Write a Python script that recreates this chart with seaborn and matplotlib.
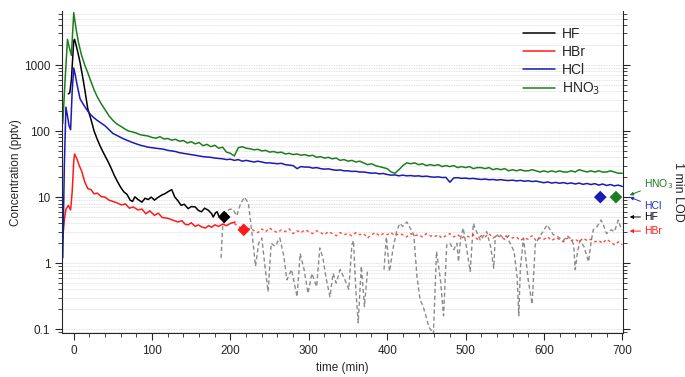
import numpy as np
import pandas as pd
import matplotlib
matplotlib.use('Agg')
import matplotlib.pyplot as plt
import seaborn as sns
from matplotlib.ticker import FixedLocator, LogLocator, FuncFormatter, MultipleLocator, NullFormatter

# ---- data (time in min, concentration in pptv) ----
t_early_hno3 = [-14, -11, -8, -6, -3, 0, 3, 6, 10, 14, 18, 22, 26, 30, 35, 40, 45, 50,
                55, 60, 65, 70, 75, 80, 85, 90, 95]
hno3_early = [130, 600, 2450, 1900, 1400, 6200, 3500, 2200, 1400, 1000, 760, 560, 420, 330,
              260, 210, 170, 145, 128, 118, 108, 100, 97, 93, 88, 86, 84]

t_early_hcl = [-14, -12, -10, -8, -6, -4, -2, 0, 2, 4, 6, 8, 10, 14, 18, 22, 26, 30, 35, 40,
               45, 50, 55, 60, 65, 70, 75, 80, 85, 90, 95]
hcl_early = [1.2, 30, 230, 170, 120, 105, 400, 900, 700, 520, 400, 310, 280, 235, 200, 175,
             158, 145, 132, 120, 105, 92, 86, 80, 75, 71, 67, 64, 61, 59, 57]

t_late = [100, 105, 110, 115, 120, 125, 130, 135, 140, 145,
          150, 155, 160, 165, 170, 175, 180, 185, 190, 195,
          200, 205, 210, 215, 220, 225, 230, 235, 240, 245,
          250, 255, 260, 265, 270, 275, 280, 285, 290, 295,
          300, 305, 310, 315, 320, 325, 330, 335, 340, 345,
          350, 355, 360, 365, 370, 375, 380, 385, 390, 395,
          400, 405, 410, 415, 420, 425, 430, 435, 440, 445,
          450, 455, 460, 465, 470, 475, 480, 485, 490, 495,
          500, 505, 510, 515, 520, 525, 530, 535, 540, 545,
          550, 555, 560, 565, 570, 575, 580, 585, 590, 595,
          600, 605, 610, 615, 620, 625, 630, 635, 640, 645,
          650, 655, 660, 665, 670, 675, 680, 685, 690, 695,
          700]

hno3_late = [80, 78, 82, 76, 77, 73, 75, 70, 72, 66,
             69, 64, 67, 60, 63, 58, 61, 55, 57, 48,
             46, 42, 56, 58, 55, 54, 52, 53, 50, 51,
             48, 49, 47, 48, 45, 46, 44, 45, 43, 44,
             42, 43, 40, 41, 39, 40, 38, 39, 36, 37,
             35, 36, 34, 35, 33, 31, 32, 30, 29, 28,
             27, 24, 23, 26, 30, 33, 32, 33, 31, 32,
             30, 31, 30, 31, 29, 30, 29, 30, 28, 29,
             28, 29, 27, 28, 28, 27, 28, 26, 27, 26,
             27, 25, 26, 25, 26, 25, 25, 26, 25, 24,
             25, 24, 25, 24, 25, 24, 24, 25, 24, 26,
             25, 24, 25, 24, 25, 24, 24, 25, 24, 23,
             23]

hcl_late = [56, 55, 54, 53, 51, 50, 49, 47, 46, 45,
            44, 43, 42, 41, 40.5, 40, 39, 38.5, 38, 37,
            37.5, 36, 37, 35, 36, 35, 34, 35, 34, 33,
            33, 32.5, 32, 32.5, 31, 30.5, 30, 27, 29, 28.5,
            28.5, 27.5, 28, 27, 26.5, 26.8, 26, 25.5, 25.8, 25,
            25, 24.5, 24.6, 24, 24, 23.5, 23, 23.2, 22.5, 22.8,
            22, 21.5, 21.7, 21, 21.5, 21, 21.2, 20.8, 21, 20.5,
            20.8, 20.3, 20, 20.3, 19.8, 19.9, 16.8, 19.5, 19.7, 19.2,
            19.4, 19, 19.2, 18.8, 18.5, 18.8, 18.3, 18.5, 18.1, 18.4,
            18, 17.8, 18.1, 17.6, 17.9, 17.4, 17.7, 17.2, 17.5, 17,
            16.5, 17, 16.3, 16.7, 16.2, 16.6, 16, 16.4, 15.8, 16.3,
            15.6, 16.1, 15.5, 16, 15.2, 15.8, 15, 15.5, 14.8, 15.2,
            14.5]

t_hf = [-7, -5, -3, -1, 0, 1, 3, 5, 8, 12, 14, 18, 22, 26, 30, 33, 36, 40, 44, 48, 52, 56,
        60, 64, 68, 72, 75, 78, 82, 87, 91, 95, 99, 103, 107, 112, 116, 120, 125, 129, 133,
        137, 141, 146, 150, 155, 159, 163, 167, 172, 176, 178, 181, 183, 185]
hf = [365, 380, 600, 1500, 2300, 2450, 2000, 1600, 1100, 600, 430, 215, 150, 100, 75, 62,
      52, 42, 34, 27, 21, 17, 14, 12, 11, 9, 8.6, 10.1, 9.2, 8.4, 9.6, 9.2, 10, 9, 9.8, 10.7,
      11.2, 12, 13, 10, 8.8, 7.5, 7.8, 6.7, 7.2, 7.1, 6.3, 6, 6.8, 6.3, 5.6, 5, 5.8, 6, 5.2]

t_hbr = [-14, -12, -10, -7, -4, -2, 0, 1, 4, 7, 10, 14, 18, 22, 26, 30, 35, 40, 45, 50, 55,
         61, 66, 71, 76, 82, 87, 92, 97, 103, 108, 113, 120, 126, 133, 138, 142, 146, 150,
         155, 159, 163, 168, 172, 176, 180, 185, 190, 195, 200, 206]
hbr = [2.4, 4.5, 6.5, 7.5, 6.4, 12, 35, 45, 38, 30, 25, 17, 13.4, 13, 11.2, 11.5, 10.2, 10,
       9, 8.6, 8.2, 7.6, 7.9, 6.8, 7.1, 6.4, 6.6, 5.6, 6.2, 5.3, 5.7, 4.9, 4.8, 4.5, 4.2, 4.4,
       3.9, 3.8, 4.1, 3.6, 3.8, 3.55, 3.4, 3.7, 3.5, 3.8, 3.6, 3.9, 3.7, 4.0, 4.2]

# HBr 1-min data after the solid segment
hbr_lod = [4.0, 3.6, 3.3, 3.0, 3.4, 3.1, 2.9, 3.3, 3.0, 3.4,
           3.1, 2.9, 3.2, 3.0, 3.3, 2.8, 3.1, 2.9, 3.2, 3.0,
           2.8, 3.1, 2.9, 2.7, 3.0, 2.8, 2.6, 2.9, 2.7, 2.8,
           2.6, 2.9, 2.7, 2.8, 2.4, 2.7, 2.9, 2.6, 2.8, 2.7,
           2.9, 2.6, 2.8, 2.7, 2.5, 2.8, 2.6, 2.7, 2.5, 2.8,
           2.6, 2.5, 2.7, 2.4, 2.6, 2.8, 2.5, 2.7, 2.4, 2.6,
           2.5, 2.7, 2.3, 2.6, 2.5, 2.8, 2.4, 2.6, 2.5, 2.3,
           2.6, 2.4, 2.5, 2.2, 2.4, 2.3, 2.6, 2.2, 2.4, 2.3,
           2.5, 2.2, 2.4, 2.3, 2.1, 2.4, 2.2, 2.3, 2.1, 2.4,
           2.2, 2.3, 2.1, 2.2, 2.0, 2.3, 2.1, 1.9, 2.1, 1.9]

# HF 1-min data (grey dashed), two segments with a gap
t_hf_lod_a = [188, 190, 194, 198, 203, 208, 213, 218, 223, 228, 232, 236, 240, 244, 248, 252,
              257, 263, 268, 272, 278, 285, 289, 294, 299, 304, 310, 314, 318, 322, 327, 331,
              335, 340, 345, 351, 355, 357, 360, 363, 367, 371, 375]
hf_lod_a = [1.2, 3.5, 5.5, 6.5, 6.6, 5.2, 8.0, 10.0, 8.0, 2.5, 0.9, 2.0, 2.4, 0.9, 0.37, 2.0,
            1.8, 2.4, 1.3, 0.56, 0.8, 0.31, 1.4, 0.8, 0.35, 0.7, 0.44, 1.7, 1.2, 0.6, 0.31, 0.7,
            0.5, 0.8, 0.6, 0.4, 1.9, 2.2, 0.4, 0.125, 0.9, 0.22, 0.8]
t_hf_lod_b = [396, 399, 403, 408, 412, 416, 420, 425, 430, 434, 438, 442, 446, 450, 453, 459,
              463, 468, 472, 476, 480, 485, 489, 491, 494, 497, 501, 506, 510, 514, 519, 523,
              527, 532, 536, 538, 543, 548, 552, 557, 562, 566, 568, 570, 574, 580, 585, 589,
              594, 599, 604, 608, 612, 618, 625, 630, 635, 638, 640, 643, 646, 651, 657, 660,
              663, 668, 673, 677, 680, 683, 686, 690, 695, 698, 700]
hf_lod_b = [0.8, 2.5, 0.75, 1.8, 3.0, 4.0, 3.6, 4.2, 3.3, 2.7, 0.63, 0.28, 0.22, 0.15, 0.11,
            0.085, 1.5, 0.56, 0.16, 1.9, 2.0, 1.6, 2.0, 1.05, 2.5, 3.4, 1.8, 0.75, 4.0, 3.0,
            2.2, 2.6, 3.0, 1.8, 0.84, 2.5, 2.8, 2.4, 2.6, 2.0, 1.5, 0.6, 0.16, 0.84, 2.4, 0.56,
            0.24, 1.9, 2.5, 3.0, 3.8, 3.2, 2.7, 2.5, 2.2, 2.6, 2.3, 1.9, 0.8, 1.5, 2.2, 1.8,
            1.05, 2.0, 3.2, 3.6, 4.5, 3.5, 2.8, 3.0, 3.2, 3.0, 4.5, 3.5, 3.2]

# 1 min LOD markers
lod_species = ['HF', 'HBr', 'HCl', 'HNO3']
lod_time = [192, 217, 672, 692]
lod_value = [5.0, 3.2, 10.0, 10.0]

colors = {'HF': 'black', 'HBr': '#ff1a1a', 'HCl': '#1a1ab4', 'HNO3': '#1e7d1e'}

hno3 = pd.DataFrame({'time': t_early_hno3 + t_late, 'conc': hno3_early + hno3_late})
hcl = pd.DataFrame({'time': t_early_hcl + t_late, 'conc': hcl_early + hcl_late})

sns.set_style('ticks')
plt.rcParams['font.family'] = ['Liberation Sans', 'DejaVu Sans']

fig, ax = plt.subplots(figsize=(6.85, 3.77), dpi=100)
fig.subplots_adjust(left=0.0905, right=0.9095, top=0.97, bottom=0.117)

# grey / red 1-min traces below the main lines
sns.lineplot(x=t_hf_lod_a, y=hf_lod_a, ax=ax, color='#8a8a8a', lw=1.0, linestyle=(0, (3, 2)))
sns.lineplot(x=t_hf_lod_b, y=hf_lod_b, ax=ax, color='#8a8a8a', lw=1.0, linestyle=(0, (3, 2)))
sns.lineplot(x=t_late[21:], y=hbr_lod, ax=ax, color=colors['HBr'], lw=1.0,
             linestyle=(0, (2, 2)), alpha=0.8)

sns.lineplot(x=t_hf, y=hf, ax=ax, color=colors['HF'], lw=1.1, label='HF')
sns.lineplot(x=t_hbr, y=hbr, ax=ax, color=colors['HBr'], lw=1.1, label='HBr')
sns.lineplot(data=hcl, x='time', y='conc', ax=ax, color=colors['HCl'], lw=1.1, label='HCl')
sns.lineplot(data=hno3, x='time', y='conc', ax=ax, color=colors['HNO3'], lw=1.1,
             label='HNO$_3$')

lod = pd.DataFrame({'time': lod_time, 'conc': lod_value, 'sp': lod_species})
sns.scatterplot(data=lod, x='time', y='conc', hue='sp', palette=colors, marker='D', s=42,
                edgecolor='none', ax=ax, legend=False, zorder=5)

ax.set_yscale('log')
ax.set_ylim(0.088, 6500)
ax.set_xlim(-15, 701)

ax.yaxis.set_major_locator(FixedLocator([0.1, 1, 10, 100, 1000]))
ax.yaxis.set_major_formatter(FuncFormatter(lambda v, p: f'{v:g}'))
ax.yaxis.set_minor_locator(LogLocator(base=10, subs=range(2, 10)))
ax.yaxis.set_minor_formatter(NullFormatter())
ax.xaxis.set_major_locator(MultipleLocator(100))
ax.xaxis.set_minor_locator(MultipleLocator(20))

ax.tick_params(axis='both', which='major', labelsize=8.5, length=5, width=0.8, direction='out')
ax.tick_params(axis='both', which='minor', length=3, width=0.6, direction='out')
ax.tick_params(axis='y', which='both', right=True, labelright=False)

ax.grid(False)
ax.yaxis.grid(True, which='both', color='#d8d8d8', linestyle=(0, (1, 1)), lw=0.6)
ax.spines['top'].set_visible(False)
for s in ['left', 'right', 'bottom']:
    ax.spines[s].set_linewidth(0.8)

ax.set_xlabel('time (min)', fontsize=8.5)
ax.set_ylabel('Concentration (pptv)', fontsize=8.5, labelpad=1)

handles, labels = ax.get_legend_handles_labels()
ax.legend(handles, labels, loc='upper left', bbox_to_anchor=(0.8, 0.99), frameon=False,
          fontsize=10, handlelength=2.3, labelspacing=0.28, handletextpad=0.5)

# labels for the 1 min LOD axis
notes = [('HNO$_3$', 16.0, 10.7), ('HCl', 7.3, 10.0), ('HF', 5.0, 5.0), ('HBr', 3.06, 3.06)]
note_colors = [colors['HNO3'], '#2a2ad8', colors['HF'], colors['HBr']]
for (txt, ytxt, ytip), c in zip(notes, note_colors):
    ax.annotate(txt, xy=(1.012, ytip), xycoords=('axes fraction', 'data'),
                xytext=(1.037, ytxt), textcoords=('axes fraction', 'data'),
                fontsize=7.5, color=c, ha='left', va='center', annotation_clip=False,
                arrowprops=dict(arrowstyle='-|>', color=c, lw=0.7, mutation_scale=5,
                                shrinkA=0, shrinkB=0))

fig.text(678 / 685, 1 - 192 / 377, '1 min LOD', rotation=270, fontsize=9,
         ha='center', va='center')

fig.savefig('out.png', dpi=100)
